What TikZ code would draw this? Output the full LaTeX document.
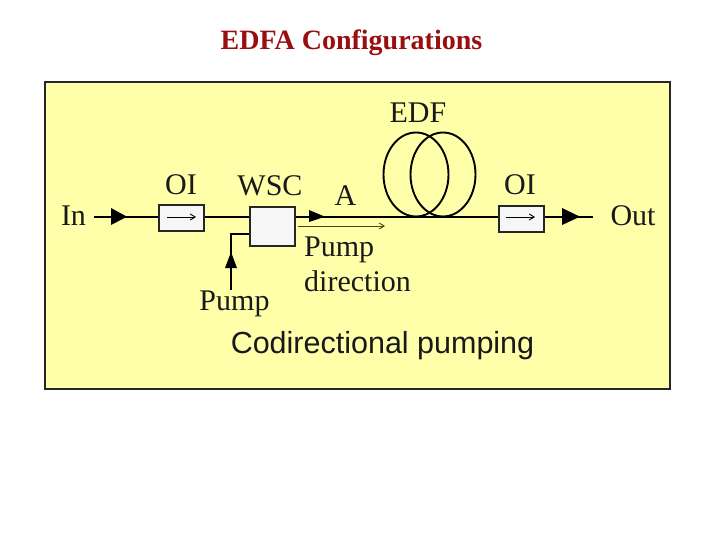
\documentclass[tikz,border=0pt]{standalone}
\usepackage{fontspec}
\setmainfont{Liberation Serif}
\newfontfamily\sansf{Liberation Sans}
\usetikzlibrary{arrows.meta,shapes.geometric}
\definecolor{panel}{HTML}{FFFFAA}
\definecolor{boxfill}{HTML}{F6F6F6}
\definecolor{titlered}{HTML}{990F0F}
\definecolor{dirline}{HTML}{4A4210}
\tikzset{
  lab/.style={font=\fontsize{30}{32}\selectfont, text=black!90, inner sep=0pt},
  fibre/.style={line width=2pt, black},
  comp/.style={draw=black!85, line width=2pt, fill=boxfill, inner sep=0pt, anchor=north west},
  coil/.style={draw=black, line width=1.9pt, minimum width=65pt, minimum height=84pt, inner sep=0pt, ellipse, anchor=center},
  head/.style={fill=black, draw=none},
  thin arrow/.style={line width=0.9pt, -{Straight Barb[length=5pt,width=6pt]}}
}
\begin{document}
\begin{tikzpicture}[x=1pt,y=-1pt]
\useasboundingbox (0,0) rectangle (720,540);
\fill[white] (0,0) rectangle (720,540);
\node[inner sep=0pt, text=titlered, font=\fontsize{28}{30}\selectfont\bfseries] (title) at (351.5,42.5) {EDFA Configurations};
\node[draw=black!85, line width=2pt, fill=panel, minimum width=625pt, minimum height=307pt, inner sep=0pt, anchor=north west] (panel) at (44,81) {};
% EDF coil
\node[coil] (coilA) at (416,174.5) {};
\node[coil] (coilB) at (443,174.5) {};
% components
\node[comp, minimum width=45pt, minimum height=26pt] (oia) at (158,204) {};
\node[comp, minimum width=45pt, minimum height=39pt] (wsc) at (249,206) {};
\node[comp, minimum width=45pt, minimum height=26pt] (oib) at (498,205) {};
\coordinate (inS) at (94,216.7);
\coordinate (outE) at (593,216.7);
\coordinate (pumpS) at (231,290);
\coordinate (pumpC) at (231,234);
\coordinate (dirS) at (298,226);
\coordinate (dirE) at (385,226);
% fibres
\draw[fibre] (inS) -- (oia.west |- inS);
\draw[fibre] (oia.east |- inS) -- (wsc.west |- inS);
\draw[fibre] (wsc.east |- inS) -- (oib.west |- inS);
\draw[fibre] (oib.east |- inS) -- (outE);
\draw[line width=1.7pt, black] (pumpS) -- (pumpC) -- (wsc.west |- pumpC);
% arrowheads
\fill[head] (111,208) -- (127,216.7) -- (111,225) -- cycle;
\fill[head] (309,210) -- (325,216.7) -- (309,222) -- cycle;
\fill[head] (562,208) -- (580,216.7) -- (562,225) -- cycle;
\fill[head] (231,252) -- (237,268) -- (225,268) -- cycle;
% inner arrows
\draw[thin arrow] (167,217) -- (196,217);
\draw[thin arrow] (506,217) -- (535,217);
\draw[thin arrow, draw=dirline] (dirS) -- (dirE);
% labels
\node[lab] (lin) at (73.5,215.5) {In};
\node[lab] (loia) at (181,185) {OI};
\node[lab] (lwsc) at (270,186) {WSC};
\node[lab] (la) at (345.5,196) {A};
\node[lab] (ledf) at (418,113) {EDF};
\node[lab] (loib) at (520,185) {OI};
\node[lab] (lout) at (633,216) {Out};
\node[lab] (lpump) at (234.5,304) {Pump};
\node[lab, anchor=base west] (ldira) at (304,256) {Pump};
\node[lab, anchor=base west] (ldirb) at (304,291) {direction};
\node[inner sep=0pt, text=black!90, font=\fontsize{30.5}{32}\sansf] (lcap) at (382.5,345.5) {Codirectional pumping};
\end{tikzpicture}
\end{document}
